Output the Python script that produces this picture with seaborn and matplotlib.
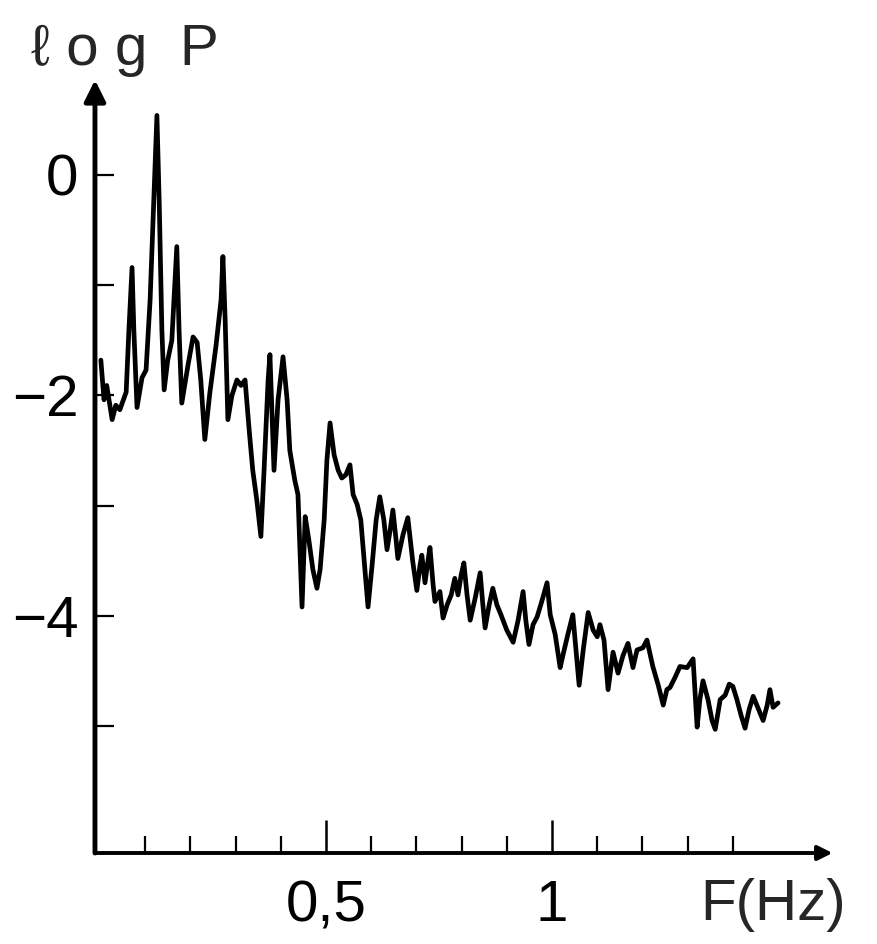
import pandas as pd
import matplotlib
matplotlib.use("Agg")
import matplotlib.pyplot as plt
import seaborn as sns

# Spectrum (frequency in Hz, log of power)
freq_hz = [0.002, 0.009, 0.015, 0.027, 0.035, 0.044, 0.058, 0.064, 0.071, 0.075,
           0.082, 0.093, 0.102, 0.111, 0.119, 0.126, 0.131, 0.137, 0.142, 0.150,
           0.159, 0.170, 0.175, 0.181, 0.195, 0.206, 0.215, 0.223, 0.232, 0.243,
           0.257, 0.268, 0.272, 0.277, 0.283, 0.292, 0.303, 0.312, 0.321, 0.330,
           0.338, 0.347, 0.356, 0.363, 0.372, 0.376, 0.381, 0.385, 0.394, 0.405,
           0.414, 0.420, 0.431, 0.438, 0.447, 0.454, 0.462, 0.471, 0.480, 0.487,
           0.496, 0.502, 0.509, 0.518, 0.527, 0.535, 0.544, 0.553, 0.560, 0.569,
           0.577, 0.586, 0.593, 0.602, 0.611, 0.619, 0.628, 0.635, 0.642, 0.648,
           0.655, 0.659, 0.670, 0.681, 0.688, 0.692, 0.701, 0.708, 0.712, 0.719,
           0.726, 0.730, 0.737, 0.741, 0.752, 0.759, 0.768, 0.777, 0.785, 0.792,
           0.799, 0.805, 0.812, 0.819, 0.830, 0.841, 0.847, 0.852, 0.861, 0.869,
           0.878, 0.887, 0.900, 0.914, 0.925, 0.936, 0.942, 0.949, 0.958, 0.967,
           0.978, 0.989, 0.996, 1.007, 1.018, 1.024, 1.035, 1.046, 1.053, 1.060,
           1.069, 1.080, 1.091, 1.100, 1.106, 1.115, 1.124, 1.135, 1.146, 1.157,
           1.168, 1.179, 1.188, 1.201, 1.210, 1.223, 1.235, 1.246, 1.254, 1.261,
           1.272, 1.283, 1.299, 1.312, 1.316, 1.321, 1.327, 1.334, 1.345, 1.354,
           1.361, 1.372, 1.383, 1.392, 1.400, 1.409, 1.418, 1.427, 1.436, 1.445,
           1.456, 1.467, 1.476, 1.482, 1.489, 1.500]

log_power = [-1.68, -2.04, -1.91, -2.22, -2.09, -2.13, -1.97, -1.41, -0.84, -1.41,
             -2.11, -1.84, -1.77, -1.13, -0.23, 0.54, -0.23, -1.41, -1.95, -1.68,
             -1.50, -0.65, -1.41, -2.07, -1.72, -1.47, -1.52, -1.86, -2.40, -1.98,
             -1.54, -1.13, -0.74, -1.32, -2.22, -2.00, -1.86, -1.91, -1.86, -2.31,
             -2.68, -2.95, -3.28, -2.68, -1.86, -1.63, -2.22, -2.68, -2.04, -1.65,
             -2.04, -2.50, -2.77, -2.90, -3.92, -3.10, -3.31, -3.58, -3.75, -3.58,
             -3.13, -2.59, -2.25, -2.54, -2.68, -2.75, -2.72, -2.63, -2.90, -2.99,
             -3.13, -3.58, -3.92, -3.54, -3.13, -2.92, -3.13, -3.40, -3.22, -3.04,
             -3.31, -3.48, -3.27, -3.11, -3.36, -3.51, -3.77, -3.54, -3.45, -3.70,
             -3.49, -3.38, -3.72, -3.87, -3.78, -4.02, -3.90, -3.81, -3.66, -3.81,
             -3.63, -3.52, -3.81, -4.04, -3.84, -3.61, -3.90, -4.11, -3.90, -3.75,
             -3.90, -3.99, -4.13, -4.24, -4.04, -3.78, -4.04, -4.26, -4.08, -4.01,
             -3.86, -3.70, -3.99, -4.17, -4.47, -4.36, -4.17, -3.99, -4.31, -4.63,
             -4.31, -3.97, -4.13, -4.19, -4.08, -4.22, -4.67, -4.33, -4.52, -4.36,
             -4.25, -4.47, -4.31, -4.29, -4.22, -4.46, -4.63, -4.81, -4.67, -4.65,
             -4.56, -4.46, -4.47, -4.39, -4.67, -5.01, -4.76, -4.59, -4.76, -4.95,
             -5.03, -4.76, -4.72, -4.62, -4.64, -4.76, -4.90, -5.02, -4.85, -4.73,
             -4.84, -4.95, -4.81, -4.67, -4.83, -4.79]

y_ticks = [0, -1, -2, -3, -4, -5]
y_labels = ["0", "", "\u22122", "", "\u22124", ""]
x_major = [0.5, 1.0]
x_labels = ["0,5", "1"]
x_minor = [0.1, 0.2, 0.3, 0.4, 0.6, 0.7, 0.8, 0.9, 1.1, 1.2, 1.3, 1.4]

df = pd.DataFrame({"F": freq_hz, "logP": log_power})

sns.set_style("white")
plt.rcParams['font.family'] = ['Liberation Sans', 'DejaVu Sans']

fig = plt.figure(figsize=(8.77, 9.44), dpi=100)
ax = fig.add_axes([0.1083, 0.0964, 0.8495, 0.8189])

sns.lineplot(data=df, x="F", y="logP", sort=False, estimator=None,
             color="black", linewidth=3.4, ax=ax)

ax.set_xlim(-0.011, 1.637)
ax.set_ylim(-6.152, 0.862)
ax.set_xlabel("")
ax.set_ylabel("")

for s in ax.spines.values():
    s.set_visible(False)

# axes drawn as arrows like the hand drawn original
ax.annotate("", xy=(0, 1.0), xytext=(0, 0), xycoords="axes fraction",
            arrowprops=dict(arrowstyle="-|>", color="black", lw=3.5,
                            mutation_scale=32, shrinkA=0, shrinkB=0))
ax.annotate("", xy=(0.99, 0), xytext=(0, 0), xycoords="axes fraction",
            arrowprops=dict(arrowstyle="-|>", color="black", lw=2.8,
                            mutation_scale=22, shrinkA=0, shrinkB=0))

ax.set_yticks(y_ticks)
ax.set_yticklabels(y_labels)
ax.set_xticks(x_major)
ax.set_xticklabels(x_labels)
ax.set_xticks(x_minor, minor=True)

ax.tick_params(axis="y", direction="in", length=14, width=1.6, pad=12,
               labelsize=42, left=True, colors="black")
ax.tick_params(axis="x", which="major", direction="in", length=24, width=1.8,
               pad=19, labelsize=42, bottom=True, colors="black")
ax.tick_params(axis="x", which="minor", direction="in", length=12, width=1.6,
               bottom=True, colors="black")

fig.text(0.035, 0.931, "\u2113 o g  P", fontsize=42, va="baseline", ha="left")
fig.text(0.798, 0.041, "F(Hz)", fontsize=42, va="center", ha="left")

fig.savefig("out.png", dpi=100, facecolor="white")
